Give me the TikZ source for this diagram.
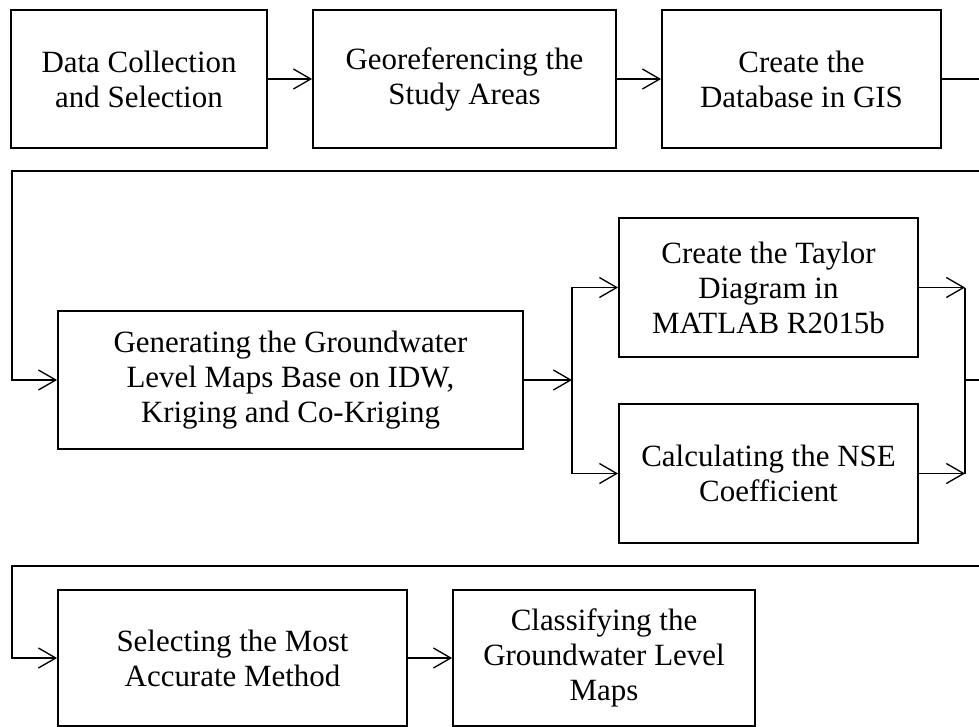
\documentclass[tikz,border=0pt]{standalone}
\usepackage{fontspec}
\setmainfont{Liberation Serif}
\usetikzlibrary{arrows.meta}

\begin{document}
\begin{tikzpicture}[x=0.75pt, y=-0.75pt,
		every node/.style={font=\fontsize{23.2pt}{26.3pt}\selectfont, align=center, inner sep=0pt},
		box/.style={rectangle, draw, line width=1.4pt, minimum height=103pt},
		arr/.style={-{Straight Barb[length=13pt, width=15pt]}, line width=1pt},
		ln/.style={line width=1pt}]
			\useasboundingbox (0, 0) rectangle (979, 726);

			\node[box, minimum width=192pt] (data) at (139, 79) {Data Collection\\and Selection};
			\node[box, minimum width=227.25pt] (georef) at (464.5, 79) {Georeferencing the\\Study Areas};
			\node[box, minimum width=209.25pt] (database) at (801.5, 79) {Create the\\Database in GIS};
			\node[box, minimum width=348.75pt, minimum height=103.5pt] (generate) at (290.5, 380) {Generating the Groundwater\\Level Maps Base on IDW,\\Kriging and Co-Kriging};
			\node[box, minimum width=224.25pt, minimum height=104.25pt] (taylor) at (768.5, 287.5) {Create the Taylor\\Diagram in\\MATLAB R2015b};
			\node[box, minimum width=224.25pt, minimum height=104.25pt] (nse) at (768.5, 473.5) {Calculating the NSE\\Coefficient};
			\node[box, minimum width=261.75pt, minimum height=102pt] (select) at (232.5, 658) {Selecting the Most\\Accurate Method};
			\node[box, minimum width=226.5pt, minimum height=102pt] (classify) at (604, 658) {Classifying the\\Groundwater Level\\Maps};

			\coordinate (r1) at (979, 79);
			\coordinate (r2) at (979, 171);
			\coordinate (l1) at (12, 171);
			\coordinate (split) at (572, 380);
			\coordinate (jt) at (965, 287.5);
			\coordinate (jb) at (965, 473.5);
			\coordinate (join) at (965, 380);
			\coordinate (r3) at (979, 380);
			\coordinate (r4) at (979, 566);
			\coordinate (l2) at (12, 566);

			\draw[arr] (data) -- (georef);
			\draw[arr] (georef) -- (database);
			\draw[ln] (database) -- (r1);
			\draw[arr] (r2) -- (l1) |- (generate);
			\draw[arr] (generate) -- (split);
			\draw[arr] (split) |- (taylor);
			\draw[arr] (split) |- (nse);
			\draw[arr] (taylor) -- (jt);
			\draw[arr] (nse) -- (jb);
			\draw[ln] (jt) -- (jb);
			\draw[ln] (join) -- (r3);
			\draw[arr] (r4) -- (l2) |- (select);
			\draw[arr] (select) -- (classify);
		\end{tikzpicture}
\end{document}
